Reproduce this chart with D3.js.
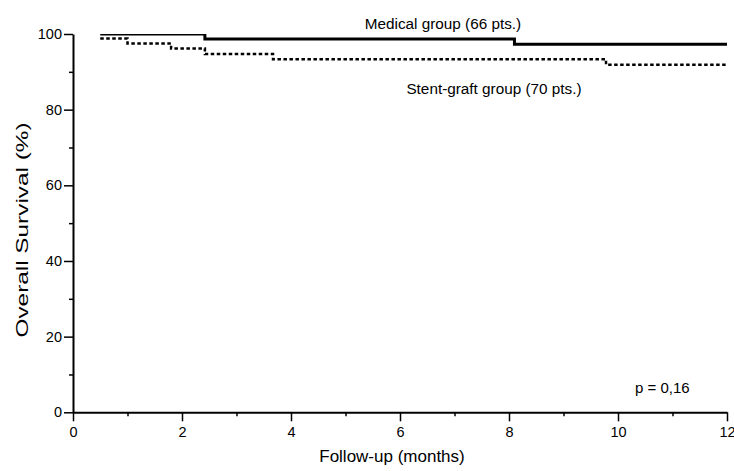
<!DOCTYPE html>
<html>
<head>
<meta charset="utf-8">
<script src="https://cdn.jsdelivr.net/npm/d3@7"></script>
<style>
  html, body { margin: 0; padding: 0; background: #fff; }
  svg { display: block; font-family: "Liberation Sans", Arial, sans-serif; }
</style>
</head>
<body>
<svg id="chart" width="734" height="471"></svg>
<script>
// ---- data ----
const medicalTimes  = [0.5, 2.42, 8.1];
const medicalValues = [100, 98.7, 97.3];
const stentTimes    = [0.5, 1.0, 1.8, 2.42, 3.67, 9.78];
const stentValues   = [98.8, 97.5, 96.2, 94.7, 93.3, 91.9];
const followUpEnd   = 12;
const xMajorTicks = [0, 2, 4, 6, 8, 10, 12];
const xMinorTicks = [1, 3, 5, 7, 9, 11];
const yMajorTicks = [0, 20, 40, 60, 80, 100];
const yMinorTicks = [10, 30, 50, 70, 90];
const medicalLabel = "Medical group (66 pts.)";
const stentLabel   = "Stent-graft group (70 pts.)";
const pLabel       = "p = 0,16";

// ---- layout ----
const svg = d3.select("#chart");
const x = d3.scaleLinear().domain([0, 12]).range([73, 727]);
const y = d3.scaleLinear().domain([0, 100]).range([412.3, 34]);

svg.append("defs").append("clipPath").attr("id", "plotclip")
  .append("rect")
  .attr("x", x(0)).attr("y", y(100))
  .attr("width", x(12) - x(0) + 5).attr("height", y(0) - y(100));

function styleAxis(g) {
  g.select(".domain").attr("stroke", "#000").attr("stroke-width", 2);
  g.selectAll(".tick line").attr("stroke", "#000").attr("stroke-width", 1.5);
  g.selectAll(".tick text").attr("fill", "#000").style("font-size", "14.5px")
    .style("font-family", "'Liberation Sans', Arial, sans-serif");
}

// x axis minor ticks
svg.append("g").attr("transform", `translate(0,${y(0)})`)
  .call(d3.axisBottom(x).tickValues(xMinorTicks).tickSize(4).tickFormat("").tickSizeOuter(0))
  .call(g => { styleAxis(g); g.select(".domain").remove(); });
// x axis major
svg.append("g").attr("transform", `translate(0,${y(0)})`)
  .call(d3.axisBottom(x).tickValues(xMajorTicks).tickSize(9).tickPadding(5).tickSizeOuter(0)
        .tickFormat(d3.format("d")))
  .call(styleAxis);

// y axis minor
svg.append("g").attr("transform", `translate(${x(0)},0)`)
  .call(d3.axisLeft(y).tickValues(yMinorTicks).tickSize(4).tickFormat("").tickSizeOuter(0))
  .call(g => { styleAxis(g); g.select(".domain").remove(); });
// y axis major
svg.append("g").attr("transform", `translate(${x(0)},0)`)
  .call(d3.axisLeft(y).tickValues(yMajorTicks).tickSize(9).tickPadding(2).tickSizeOuter(0)
        .tickFormat(d3.format("d")))
  .call(styleAxis);

// ---- curves ----
function stepData(times, values) {
  const pts = times.map((t, i) => [t, values[i]]);
  pts.push([followUpEnd, values[values.length - 1]]);
  return pts;
}
const line = d3.line().x(d => x(d[0])).y(d => y(d[1])).curve(d3.curveStepAfter);

const plot = svg.append("g").attr("clip-path", "url(#plotclip)");
plot.append("path")
  .datum(stepData(stentTimes, stentValues))
  .attr("d", line).attr("fill", "none")
  .attr("stroke", "#000").attr("stroke-width", 2.5)
  .attr("stroke-dasharray", "3.5,2.5");
plot.append("path")
  .datum(stepData(medicalTimes, medicalValues))
  .attr("d", line).attr("fill", "none")
  .attr("stroke", "#000").attr("stroke-width", 3);

// ---- labels ----
svg.append("text").attr("x", 443).attr("y", 29).attr("text-anchor", "middle")
  .style("font-size", "15.3px").text(medicalLabel);
svg.append("text").attr("x", 494).attr("y", 94).attr("text-anchor", "middle")
  .style("font-size", "15.3px").text(stentLabel);
svg.append("text").attr("x", 635).attr("y", 393)
  .style("font-size", "15px").text(pLabel);

svg.append("text").attr("x", 392).attr("y", 462).attr("text-anchor", "middle")
  .style("font-size", "17px").text("Follow-up (months)");
svg.append("text")
  .attr("transform", `translate(28,230) rotate(-90)`)
  .attr("text-anchor", "middle")
  .attr("textLength", 215).attr("lengthAdjust", "spacingAndGlyphs")
  .style("font-size", "17px").text("Overall Survival (%)");
</script>
</body>
</html>
